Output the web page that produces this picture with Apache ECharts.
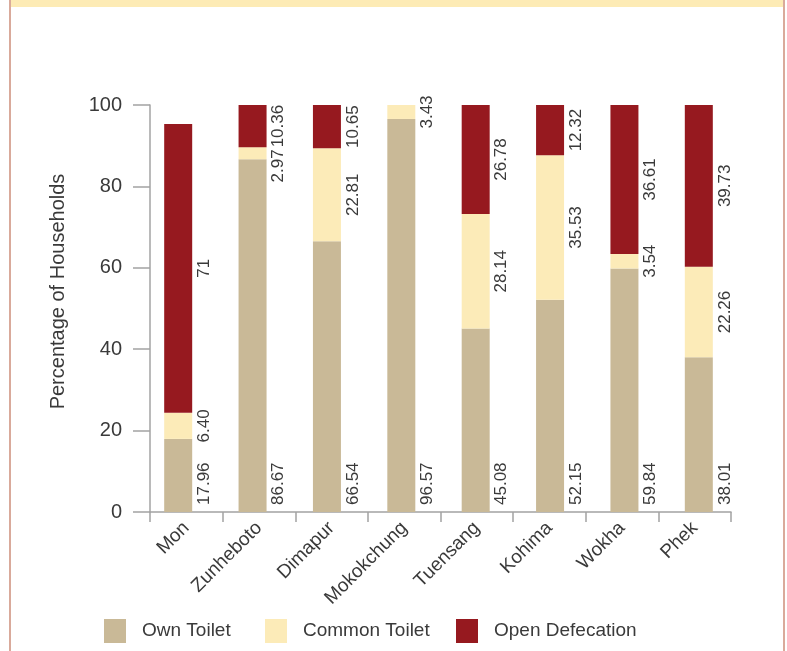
<!DOCTYPE html>
<html>
<head>
<meta charset="utf-8">
<script src="https://cdn.jsdelivr.net/npm/echarts@6/dist/echarts.min.js"></script>
<style>
  html, body { margin: 0; padding: 0; background: #fff; }
  #chart { width: 787px; height: 651px; }
</style>
</head>
<body>
<div id="chart"></div>
<script>
// Household toilet facilities by district (percent of households)
const districts = ['Mon', 'Zunheboto', 'Dimapur', 'Mokokchung', 'Tuensang', 'Kohima', 'Wokha', 'Phek'];
const ownToilet = [17.96, 86.67, 66.54, 96.57, 45.08, 52.15, 59.84, 38.01];
const commonToilet = [6.40, 2.97, 22.81, 3.43, 28.14, 35.53, 3.54, 22.26];
const openDefecation = [71, 10.36, 10.65, null, 26.78, 12.32, 36.61, 39.73];
const seriesNames = ['Own Toilet', 'Common Toilet', 'Open Defecation'];
const yMin = 0, yMax = 100, yStep = 20;

const FONT = 'Liberation Sans';
const LABEL_SIZE = 17;
const TEXT = '#3a3a3a';
const AXIS = '#a3a3a3';
const colors = ['#c9b997', '#fcebb8', '#96191f'];

const fmtValue = v => (Number.isInteger(v) ? String(v) : v.toFixed(2));
const fmt = p => fmtValue(p.value);

// text measuring for label collision checks
const measureCtx = document.createElement('canvas').getContext('2d');
measureCtx.font = LABEL_SIZE + 'px "' + FONT + '"';
const textLen = s => measureCtx.measureText(s).width;

const labelBase = {
  show: true,
  rotate: 90,
  fontFamily: FONT,
  fontSize: LABEL_SIZE,
  color: TEXT,
  formatter: fmt
};

// Own Toilet labels sit near the base of the bar (offset is in the rotated text frame)
const ownLabel = Object.assign({}, labelBase, {
  position: ['100%', '100%'],
  offset: [7, 12],
  align: 'left',
  verticalAlign: 'middle'
});

// Other labels are centred beside their segment
const sideLabel = Object.assign({}, labelBase, {
  position: 'right',
  distance: 12,
  align: 'center',
  verticalAlign: 'middle'
});

// Push a Common Toilet label down if it runs into the Open Defecation label above it
function clearOpenLabel(params) {
  const idx = params.dataIndex;
  const openVal = openDefecation[idx];
  const commonVal = commonToilet[idx];
  const r = params.rect, l = params.labelRect;
  const cx = l.x + l.width / 2, cy = l.y + l.height / 2;
  let shift = 0;
  if (openVal != null && commonVal) {
    const pxPerUnit = r.height / commonVal;
    const openH = openVal * pxPerUnit;
    const openBottom = r.y - openH / 2 + textLen(fmtValue(openVal)) / 2;
    const commonTop = cy - textLen(fmtValue(commonVal)) / 2;
    const gap = 2;
    if (commonTop < openBottom + gap) shift = openBottom + gap - commonTop;
  }
  return { x: cx, y: cy + shift };
}

const chart = echarts.init(document.getElementById('chart'), null, { renderer: 'canvas' });

chart.setOption({
  backgroundColor: '#ffffff',
  animation: false,
  textStyle: { fontFamily: FONT },
  graphic: [
    { type: 'rect', left: 11, top: 0, shape: { width: 772, height: 7 }, style: { fill: '#fdebb5' }, silent: true },
    { type: 'rect', left: 9, top: 0, shape: { width: 2, height: 651 }, style: { fill: '#d9aa9b' }, silent: true },
    { type: 'rect', left: 783, top: 0, shape: { width: 2, height: 651 }, style: { fill: '#d9aa9b' }, silent: true }
  ],
  legend: seriesNames.map((name, i) => ({
    data: [name],
    left: [104, 265, 456][i],
    top: 619,
    itemWidth: 22,
    itemHeight: 24,
    icon: 'rect',
    padding: 0,
    textStyle: { fontFamily: FONT, fontSize: 19, color: TEXT, padding: [0, 0, 0, 11] }
  })),
  grid: [
    { left: 150, right: 56, top: 105, bottom: 139 },
    { left: 141, right: 51, top: 105, bottom: 139 }
  ],
  xAxis: [
    {
      type: 'category',
      gridIndex: 0,
      data: districts,
      boundaryGap: true,
      axisLine: { lineStyle: { color: AXIS, width: 1.5 } },
      axisTick: { show: true, length: 10, alignWithLabel: false, lineStyle: { color: AXIS, width: 1.5 } },
      axisLabel: { rotate: 45, margin: 13, interval: 0, fontFamily: FONT, fontSize: 19, color: TEXT },
      splitLine: { show: false }
    },
    {
      type: 'category',
      gridIndex: 1,
      data: districts,
      show: false
    }
  ],
  yAxis: [
    {
      type: 'value',
      gridIndex: 0,
      min: yMin,
      max: yMax,
      interval: yStep,
      name: 'Percentage of Households',
      nameLocation: 'middle',
      nameRotate: 90,
      nameGap: 82,
      nameTextStyle: { fontFamily: FONT, fontSize: 20, color: TEXT, padding: [0, 0, 0, 34] },
      axisLine: { show: true, lineStyle: { color: AXIS, width: 1.5 } },
      axisTick: { show: true, length: 17, lineStyle: { color: AXIS, width: 1.5 } },
      axisLabel: { margin: 28, fontFamily: FONT, fontSize: 20, color: TEXT },
      splitLine: { show: false }
    },
    {
      type: 'value',
      gridIndex: 1,
      min: yMin,
      max: yMax,
      interval: yStep,
      show: false
    }
  ],
  series: [
    {
      name: seriesNames[0], type: 'bar', stack: 'total', xAxisIndex: 1, yAxisIndex: 1,
      barWidth: 28, data: ownToilet, itemStyle: { color: colors[0] }, label: ownLabel
    },
    {
      name: seriesNames[1], type: 'bar', stack: 'total', xAxisIndex: 1, yAxisIndex: 1,
      barWidth: 28, data: commonToilet, itemStyle: { color: colors[1] }, label: sideLabel,
      labelLayout: clearOpenLabel
    },
    {
      name: seriesNames[2], type: 'bar', stack: 'total', xAxisIndex: 1, yAxisIndex: 1,
      barWidth: 28, data: openDefecation, itemStyle: { color: colors[2] }, label: sideLabel
    }
  ]
});
</script>
</body>
</html>
